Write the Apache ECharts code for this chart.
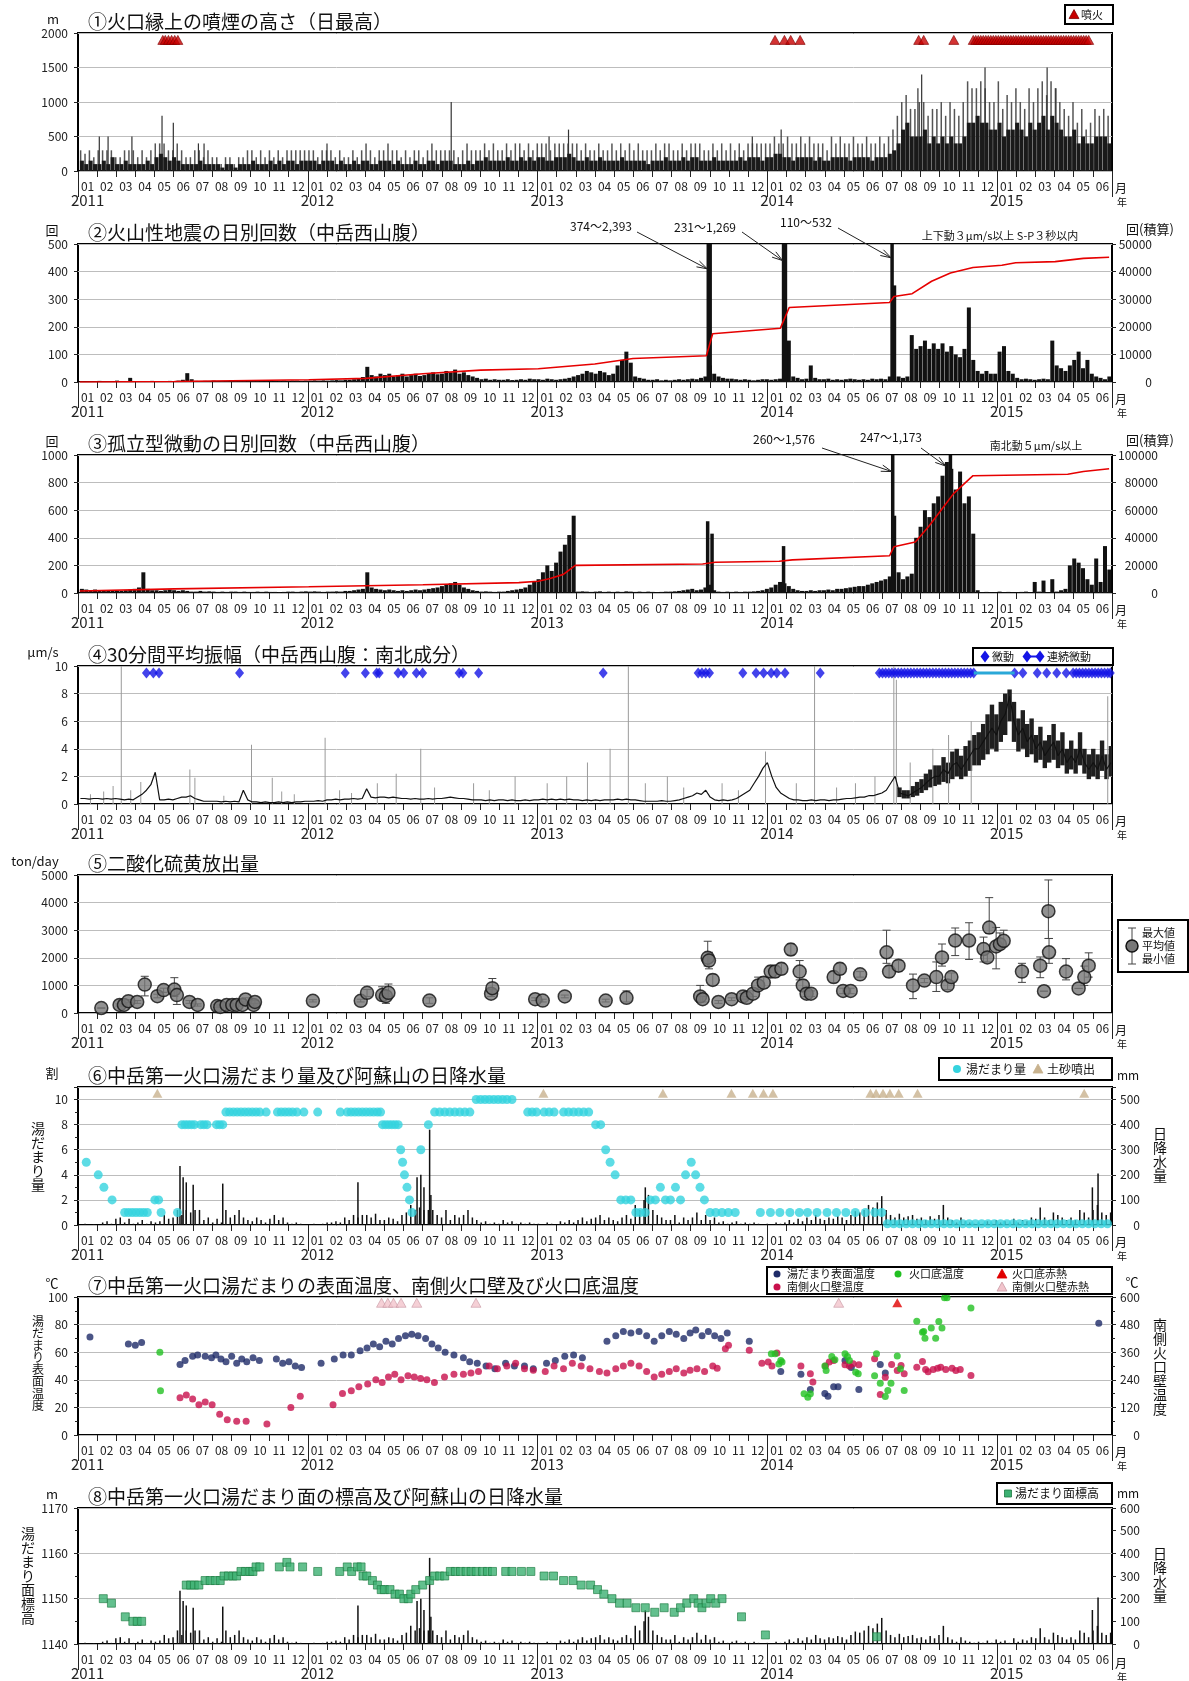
<!DOCTYPE html>
<html><head><meta charset="utf-8"><title>阿蘇山 観測データ</title>
<script src="https://cdn.jsdelivr.net/npm/echarts@6.0.0/dist/echarts.min.js"></script>
<style>html,body{margin:0;padding:0;background:#fff;}#chart{width:1189px;height:1681px;}</style>
</head><body><div id="chart"></div>
<script>
// ---------------- tick labels ----------------
const monthTicks = ['01','02','03','04','05','06','07','08','09','10','11','12',
 '01','02','03','04','05','06','07','08','09','10','11','12',
 '01','02','03','04','05','06','07','08','09','10','11','12',
 '01','02','03','04','05','06','07','08','09','10','11','12',
 '01','02','03','04','05','06'];
const yearLabels = ['2011','2012','2013','2014','2015'];
const T0 = '2011-01-01', T1 = '2015-07-01';

// ---------------- ① smoke height (m): weekly max and weekly typical ----------------
const smokeWeekly = [
 300,250,300,200,300, 300,300,300,200, 200,300,300,300, 200,300,200,300, 400,400,400,300,300, 400,300,200,200, 300,300,200,300,200, 200,100,200,200, 100,200,200,300, 300,200,300,200,300, 200,300,200,300, 300,300,300,300,
 300,300,200,300,300, 300,200,300,200, 200,300,200,300, 400,300,200,300, 300,400,300,300,200, 300,200,300,300, 200,300,400,300, 300,300,300,300,200, 300,400,300,300, 300,400,300,400,300, 300,400,300,400, 400,300,400,300,
 400,400,400,300,400, 400,400,400,400, 400,300,400,300, 300,400,300,300, 400,300,400,300,400, 300,400,300,300, 300,400,300,400, 400,300,300,400,300, 400,400,400,300, 300,400,300,400,300, 400,300,400,300, 400,400,400,400,
 400,400,500,400,400, 500,400,400,500, 400,500,400,400, 400,300,500,400, 500,400,400,500,400, 400,500,400,400, 500,400,500,600, 800,1000,1100,900,900, 1000,1000,800,900, 900,1000,800,1000,900, 800,1000,1300,1200, 1200,1300,1200,1000,
 1000,1300,900,1100,1000, 1200,1000,900,1200, 1000,1200,1300,1100, 1300,1200,1000,900, 800,1000,700,900,600, 700,900,800,900,800];
const smokeTypical = [
 150,100,150,100,100, 150,100,200,100, 100,150,100,100, 100,100,150,100, 200,250,200,150,200, 150,100,100,100, 100,150,100,100,100, 100,50,100,100, 50,100,100,100, 150,100,100,100,150, 100,150,100,150, 150,100,150,150,
 150,150,100,150,150, 150,100,150,100, 100,150,100,150, 150,100,100,150, 150,150,100,150,100, 100,100,150,100, 100,150,150,100, 150,150,150,100,100, 100,150,100,150, 150,200,150,150,150, 150,200,150,150, 200,150,200,150,
 200,200,150,150,200, 200,200,250,200, 150,150,200,150, 150,200,150,150, 150,150,200,150,150, 150,150,150,100, 150,150,150,200, 150,150,150,200,150, 200,200,150,150, 150,200,150,150,150, 150,150,200,150, 200,200,200,150,
 200,200,250,250,200, 200,150,200,200, 200,200,150,200, 150,150,200,200, 200,200,150,200,200, 200,200,150,200, 200,200,250,300, 400,600,700,500,500, 500,600,400,500, 400,500,400,500,400, 400,500,700,700, 800,700,700,600,
 600,700,500,600,600, 700,600,500,700, 600,700,800,600, 800,700,600,500, 500,600,400,500,400, 400,500,500,500,400];
const smokePeaks = [['2011-02-03',500],['2011-02-17',500],['2011-03-27',500],['2011-05-14',800],['2011-06-01',700],['2011-07-11',400],['2011-07-20',400],['2012-02-01',400],['2012-08-17',1000],['2013-01-20',500],['2013-02-20',600],['2013-12-10',500],['2014-01-25',600],['2014-08-31',1200],['2014-09-06',1400],['2014-12-16',1500],['2015-03-25',1500],['2015-04-08',1200]];
const eruptDates = ['2011-05-13','2011-05-17','2011-05-22','2011-05-27','2011-06-01','2011-06-06',
 '2014-01-13','2014-01-28','2014-02-07','2014-02-22','2014-08-30','2014-09-07','2014-10-25',
 '2014-11-25','2014-11-29','2014-12-03','2014-12-07','2014-12-11','2014-12-15','2014-12-19','2014-12-23','2014-12-27','2014-12-31',
 '2015-01-04','2015-01-08','2015-01-12','2015-01-16','2015-01-20','2015-01-24','2015-01-28','2015-02-01','2015-02-05','2015-02-09',
 '2015-02-13','2015-02-17','2015-02-21','2015-02-25','2015-03-01','2015-03-05','2015-03-09','2015-03-13','2015-03-17','2015-03-21',
 '2015-03-25','2015-03-29','2015-04-02','2015-04-06','2015-04-10','2015-04-14','2015-04-18','2015-04-22','2015-04-26','2015-04-30',
 '2015-05-04','2015-05-08','2015-05-12','2015-05-16','2015-05-20','2015-05-24','2015-05-28'];

// ---------------- ② volcanic earthquakes ----------------
const eqWeekly = [
 3,2,3,2,4, 3,2,3,5, 2,3,15,2, 3,2,3,4, 2,3,2,4,3, 5,8,32,10, 4,3,4,3,5, 3,4,3,3, 4,3,4,3, 5,4,3,5,4, 3,4,5,4, 5,5,4,5,
 5,6,5,6,5, 6,7,6,8, 8,10,12,18, 55,25,20,30, 25,30,20,25,30, 20,25,30,22, 25,30,35,28, 30,40,35,45,30, 35,25,20,15, 10,12,8,10,8, 8,10,7,8, 10,8,12,10,
 10,8,12,10,8, 10,12,15,20, 25,30,40,35, 30,40,35,25, 30,60,80,110,70, 20,15,12,8, 8,10,6,8, 6,8,10,8,10, 12,10,15,20, 60,30,20,15,12, 12,10,8,10, 8,6,8,10,
 10,8,10,12,20, 150,20,15,10, 12,60,15,10, 10,12,8,10, 8,10,12,10,8, 10,8,12,10, 12,10,20,350, 20,15,20,170,120, 130,150,120,140, 120,140,110,130,100, 90,120,270,80, 40,30,40,30,
 30,110,130,40,30, 15,10,12,10, 8,10,12,10, 150,60,50,40, 60,80,110,50,80, 30,20,15,10,20];
const eqPeaks = [['2013-09-29',2393],['2013-10-02',600],['2014-01-27',1269],['2014-01-30',500],['2014-07-19',532]];
const eqCum = [['2011-01-01',0],['2011-06-01',200],['2012-01-01',800],['2012-04-01',1300],['2012-07-01',3000],['2012-10-01',4300],['2013-01-01',4800],['2013-04-01',6500],['2013-06-01',8500],['2013-09-26',9500],['2013-10-06',17500],['2014-01-22',19500],['2014-02-05',27000],['2014-07-15',28800],['2014-07-22',31000],['2014-08-20',32000],['2014-09-20',36500],['2014-10-20',39500],['2014-11-25',41500],['2015-01-10',42300],['2015-02-01',43200],['2015-04-05',43600],['2015-05-20',44800],['2015-06-30',45200]];

// ---------------- ③ isolated tremor ----------------
const trWeekly = [
 30,25,20,25,20, 20,15,20,15, 15,20,25,30, 40,150,30,20, 20,15,20,25,20, 15,20,15,10, 10,15,10,12,10, 8,10,8,10, 10,8,10,8, 8,10,8,10,8, 8,6,8,10, 10,8,10,12,
 10,12,10,8,10, 10,12,10,15, 15,20,25,30, 150,40,30,25, 20,25,20,15,20, 15,20,25,20, 25,30,35,40, 50,60,70,80,60, 40,30,20,15, 10,12,10,8,10, 10,15,20,25, 30,40,60,80,
 100,150,200,160,220, 300,350,420,560, 10,12,10,8, 10,12,8,10, 8,10,8,12,10, 8,10,8,10, 8,6,8,10, 10,12,15,20,25, 30,20,25,40, 60,20,10,8,10, 8,10,8,10, 10,12,15,20,
 30,40,60,80,70, 50,30,20,15, 15,20,15,20, 20,25,20,30, 30,35,40,45,50, 50,60,70,80, 90,100,120,560, 150,100,120,140,400, 480,600,550,650, 700,850,950,900,750, 880,650,700,430, 20,5,8,5,
 5,10,5,8,5, 5,8,10,5, 80,10,90,5, 100,10,20,30, 200,250,220,180,100, 60,250,80,340,170];
const trPeaks = [['2013-09-28',520],['2013-10-05',430],['2014-01-27',340],['2014-07-20',1576],['2014-10-20',1173]];
const trCum = [['2011-01-01',1500],['2011-06-01',3000],['2012-01-01',4500],['2012-07-01',6000],['2012-12-01',7500],['2013-01-01',8500],['2013-01-20',10500],['2013-02-10',13500],['2013-03-01',20000],['2013-09-20',21000],['2013-10-10',22300],['2014-01-20',23000],['2014-02-10',24000],['2014-07-15',27000],['2014-07-22',33500],['2014-08-25',37000],['2014-09-15',48000],['2014-10-05',60000],['2014-10-25',72000],['2014-11-25',85000],['2015-04-25',86000],['2015-05-20',88000],['2015-06-30',90000]];

// ---------------- ④ 30-min mean amplitude ----------------
const ampWeekly = [
 0.4,0.4,0.35,0.4,0.4, 0.35,0.4,0.35,0.4, 0.35,0.3,0.35,0.3, 0.5,0.7,1.0,1.4, 2.3,0.3,0.3,0.35,0.3, 0.4,0.5,0.5,0.6, 0.4,0.3,0.2,0.2,0.2, 0.2,0.15,0.2,0.15, 0.2,0.15,1.0,0.3, 0.15,0.15,0.1,0.15,0.1, 0.1,0.15,0.1,0.15, 0.1,0.15,0.15,0.2,
 0.2,0.2,0.25,0.2,0.3, 0.3,0.35,0.3,0.35, 0.35,0.4,0.35,0.4, 1.1,0.5,0.45,0.5, 0.5,0.45,0.5,0.45,0.4, 0.4,0.35,0.4,0.35, 0.35,0.4,0.35,0.4, 0.4,0.45,0.5,0.45,0.4, 0.4,0.35,0.3,0.3, 0.3,0.25,0.3,0.25,0.3, 0.3,0.25,0.3,0.25, 0.25,0.3,0.25,0.3,
 0.3,0.35,0.3,0.35,0.3, 0.35,0.3,0.35,0.3, 0.3,0.25,0.3,0.25, 0.3,0.25,0.3,0.3, 0.3,0.35,0.3,0.35,0.3, 0.3,0.25,0.2,0.2, 0.2,0.2,0.25,0.2, 0.2,0.25,0.3,0.4,0.5, 0.6,0.8,0.7,1.0, 0.5,0.3,0.25,0.3,0.25, 0.3,0.4,0.6,0.8, 1.0,1.5,2.0,2.6,
 3.0,2.0,1.2,0.8,0.6, 0.4,0.3,0.3,0.25, 0.25,0.3,0.25,0.3, 0.3,0.25,0.3,0.3, 0.35,0.4,0.4,0.45,0.5, 0.5,0.6,0.6,0.7, 0.8,1.0,1.5,2.0, 0.8,0.7,0.6,0.8,1.0, 1.2,1.5,1.8,2.0, 2.0,2.5,2.2,2.8,3.0, 2.5,3.0,3.5,4.0, 4.0,4.5,5.0,5.5,
 5.0,6.0,6.5,7.8,6.0, 5.0,5.5,4.5,5.0, 4.0,4.5,3.5,4.0, 4.5,3.5,4.0,3.0, 3.5,3.0,4.0,3.0,2.5, 3.0,2.5,3.5,2.5,3.0];
// weekly low / high range of the trace from week 186 (end of July 2014) on
const ampBandStartWeek = 186;
const ampLow = [0.5,0.4,0.4,0.5,0.6, 0.8,1.0,1.2,1.3, 1.4,1.6,1.5,1.8,2.0, 1.8,2.0,2.4,2.8, 2.8,3.2,3.6,4.0, 3.8,4.5,5.0,6.0,4.5, 3.8,4.0,3.4,3.6, 3.0,3.2,2.6,3.0, 3.2,2.6,2.8,2.2, 2.5,2.2,2.8,2.2,1.8, 2.0,1.8,2.4,1.8,2.0];
const ampHigh = [1.2,1.0,1.0,1.3,1.6, 1.8,2.2,2.5,2.8, 2.8,3.4,3.0,3.8,4.0, 3.5,4.2,4.6,5.0, 5.2,5.8,6.5,7.2, 6.5,7.4,8.0,8.3,7.4, 6.2,6.8,5.8,6.2, 5.0,5.6,4.6,5.0, 5.8,4.6,5.2,4.0, 4.6,4.0,5.2,4.0,3.6, 4.0,3.6,4.6,3.6,4.2];
const ampSpikes = [['2011-01-20',0.7],['2011-02-10',0.9],['2011-02-25',1.3],['2011-03-10',10],['2011-03-25',1.0],['2011-04-10',1.6],['2011-06-27',2.5],['2011-07-05',1.9],['2011-08-20',0.6],['2011-10-03',4.3],['2011-11-05',1.9],['2011-11-20',0.9],['2011-12-10',0.7],['2012-01-28',4.8],['2012-02-20',1.0],['2012-03-10',0.8],['2012-04-20',1.5],['2012-05-20',2.2],['2012-06-28',4.0],['2012-07-20',1.2],['2012-09-20',1.5],['2012-10-15',1.0],['2012-11-25',2.0],['2013-01-15',1.5],['2013-02-15',2.0],['2013-03-20',3.0],['2013-04-25',4.0],['2013-05-24',10],['2013-06-20',1.5],['2013-07-25',2.0],['2013-08-20',1.2],['2013-10-20',1.5],['2013-11-15',1.0],['2013-12-28',3.8],['2014-02-15',1.5],['2014-03-16',10],['2014-04-20',1.2],['2014-05-20',1.5],['2014-06-20',2.0],['2014-07-20',10],['2014-07-24',9],['2014-08-15',3.0],['2014-09-20',4.0],['2014-10-15',5.0],['2014-11-20',6.0],['2015-06-25',7.8]];
const tremorDates = ['2011-04-19','2011-04-30','2011-05-09','2011-09-14','2012-02-29','2012-04-01','2012-04-19','2012-04-23','2012-05-23','2012-06-01','2012-06-21','2012-07-01','2012-08-28','2012-09-03','2012-09-28','2013-04-14','2013-09-12','2013-09-18','2013-09-24','2013-09-30','2013-11-22','2013-12-13','2013-12-25','2014-01-06','2014-01-15','2014-01-28','2014-03-25',
 '2014-06-27','2014-07-02','2014-07-07','2014-07-12','2014-07-17','2014-07-22','2014-07-27','2014-08-01','2014-08-06','2014-08-11','2014-08-16','2014-08-21','2014-08-26','2014-08-31','2014-09-05','2014-09-10','2014-09-15','2014-09-20','2014-09-25','2014-09-30','2014-10-05','2014-10-10','2014-10-15','2014-10-20','2014-10-25','2014-10-30','2014-11-04','2014-11-09','2014-11-14','2014-11-19','2014-11-24',
 '2015-01-28','2015-02-10','2015-03-05','2015-03-20','2015-04-05','2015-04-20','2015-05-01','2015-05-06','2015-05-11','2015-05-16','2015-05-21','2015-05-26','2015-05-31','2015-06-05','2015-06-10','2015-06-15','2015-06-20','2015-06-25','2015-06-29'];
const contTremor = [['2014-11-24',9.5],['2015-01-28',9.5]];

// ---------------- ⑤ SO2 [date, mean, min, max] ----------------
const so2 = [['2011-02-07',180,180,180],['2011-03-08',290,250,330],['2011-03-15',290,250,330],['2011-03-22',430,380,480],['2011-04-05',400,350,450],['2011-04-17',1030,620,1330],['2011-05-07',610,550,680],['2011-05-17',830,750,900],['2011-06-03',850,600,1280],['2011-06-07',650,310,900],['2011-06-27',400,350,450],['2011-07-10',290,250,330],['2011-08-10',250,200,300],['2011-08-15',220,200,250],['2011-08-25',290,250,330],['2011-09-03',290,250,330],['2011-09-10',290,250,330],['2011-09-19',290,250,330],['2011-09-24',490,400,550],['2011-10-07',290,250,330],['2011-10-09',400,350,450],
 ['2012-01-09',440,400,480],['2012-03-25',440,400,500],['2012-04-04',730,600,850],['2012-04-28',650,550,950],['2012-05-04',610,350,700],['2012-05-08',730,600,1050],['2012-07-12',450,350,550],['2012-10-18',700,600,850],['2012-10-20',900,700,1250],['2012-12-27',500,450,550],['2013-01-08',450,400,500],['2013-02-12',600,550,650],['2013-04-18',450,400,500],['2013-05-21',550,400,800],
 ['2013-09-15',600,400,1000],['2013-09-19',500,400,600],['2013-09-27',2000,1700,2600],['2013-09-29',1900,1600,2200],['2013-10-05',1200,1000,1400],['2013-10-14',400,350,450],['2013-11-04',500,450,550],['2013-11-22',600,500,700],['2013-11-28',550,500,600],['2013-12-08',700,600,800],['2013-12-16',1000,850,1300],['2013-12-25',1100,900,1300],['2014-01-05',1500,1300,1700],['2014-01-12',1500,1300,1700],['2014-01-22',1600,1400,1800],['2014-02-06',2300,2100,2500],['2014-02-20',1500,1200,1900],['2014-02-25',1000,800,1200],['2014-03-03',700,600,800],['2014-03-10',700,600,800],['2014-04-15',1300,1100,1500],['2014-04-25',1600,1400,1800],['2014-04-30',800,700,900],['2014-05-12',800,700,900],['2014-05-27',1400,1300,1500],['2014-07-08',2200,1800,3000],['2014-07-12',1500,1300,1700],['2014-07-27',1715,1500,1900],
 ['2014-08-19',1000,520,1410],['2014-09-06',1175,1100,1250],['2014-09-25',1300,780,1850],['2014-10-04',2015,1700,2500],['2014-10-13',1000,850,1150],['2014-10-19',1300,1150,1450],['2014-10-25',2625,2080,3080],['2014-11-16',2625,1940,3270],['2014-12-09',2315,1850,2750],['2014-12-15',2015,1850,2200],['2014-12-18',3095,2880,4180],['2014-12-29',2410,1600,3100],['2015-01-04',2495,2300,2900],['2015-01-10',2615,2400,3000],['2015-02-08',1500,1110,1800],['2015-03-09',1715,1280,2030],['2015-03-15',790,790,790],['2015-03-22',3690,2700,4820],['2015-03-23',2200,1800,2700],['2015-04-19',1500,1200,1970],['2015-05-09',890,890,890],['2015-05-18',1300,1000,1700],['2015-05-25',1715,1300,2180]];

// ---------------- ⑥ crater-lake volume & rain ----------------
const poolVol = [['2011-01-13',5],['2011-02-01',4],['2011-02-10',3],['2011-02-23',2],['2011-03-15',1],['2011-03-21',1],['2011-03-27',1],['2011-04-02',1],['2011-04-08',1],['2011-04-14',1],['2011-04-20',1],['2011-05-02',2],['2011-05-08',2],['2011-05-12',1],['2011-06-07',1],
 ['2011-06-14',8],['2011-06-19',8],['2011-06-24',8],['2011-06-29',8],['2011-07-04',8],['2011-07-14',8],['2011-07-19',8],['2011-07-24',8],['2011-08-08',8],['2011-08-13',8],['2011-08-18',8],
 ['2011-08-23',9],['2011-08-29',9],['2011-09-04',9],['2011-09-10',9],['2011-09-16',9],['2011-09-22',9],['2011-09-28',9],['2011-10-04',9],['2011-10-10',9],['2011-10-16',9],['2011-10-26',9],
 ['2011-11-13',9],['2011-11-19',9],['2011-11-25',9],['2011-12-01',9],['2011-12-07',9],['2011-12-14',9],['2011-12-25',9],['2012-01-16',9],
 ['2012-02-21',9],['2012-03-03',9],['2012-03-09',9],['2012-03-15',9],['2012-03-21',9],['2012-03-27',9],['2012-04-02',9],['2012-04-08',9],['2012-04-14',9],['2012-04-20',9],['2012-04-25',9],
 ['2012-04-28',8],['2012-05-03',8],['2012-05-08',8],['2012-05-13',8],['2012-05-18',8],['2012-05-23',8],
 ['2012-05-27',6],['2012-05-30',5],['2012-06-02',4],['2012-06-06',3],['2012-06-10',2],['2012-06-14',1],['2012-06-28',6],['2012-07-10',8],
 ['2012-07-20',9],['2012-07-28',9],['2012-08-05',9],['2012-08-13',9],['2012-08-21',9],['2012-08-29',9],['2012-09-06',9],['2012-09-14',9],
 ['2012-09-24',10],['2012-10-01',10],['2012-10-08',10],['2012-10-15',10],['2012-10-22',10],['2012-10-29',10],['2012-11-05',10],['2012-11-12',10],['2012-11-20',10],
 ['2012-12-15',9],['2012-12-22',9],['2012-12-29',9],['2013-01-10',9],['2013-01-18',9],['2013-01-26',9],['2013-02-10',9],['2013-02-18',9],['2013-02-26',9],['2013-03-06',9],['2013-03-14',9],['2013-03-22',9],
 ['2013-04-02',8],['2013-04-10',8],['2013-04-18',6],['2013-04-25',5],['2013-05-03',4],['2013-05-12',2],['2013-05-20',2],['2013-05-28',2],['2013-06-05',1],['2013-06-12',1],['2013-06-20',1],['2013-06-28',2],['2013-07-06',2],['2013-07-14',3],['2013-07-22',2],['2013-07-30',2],['2013-08-07',3],['2013-08-15',2],['2013-08-23',4],['2013-09-01',5],['2013-09-08',4],['2013-09-15',3],['2013-09-22',2],['2013-10-01',1],['2013-10-10',1],['2013-10-20',1],['2013-10-30',1],['2013-11-10',1],
 ['2013-12-20',1],['2014-01-05',1],['2014-01-20',1],['2014-02-05',1],['2014-02-20',1],['2014-03-05',1],['2014-03-20',1],['2014-04-05',1],['2014-04-20',1],['2014-05-05',1],['2014-05-20',1],['2014-06-05',1],['2014-06-20',1],['2014-07-01',1],
 ['2014-07-10',0.1],['2014-07-20',0.1],['2014-07-30',0.1],['2014-08-09',0.1],['2014-08-19',0.1],['2014-08-29',0.1],['2014-09-08',0.1],['2014-09-18',0.1],['2014-09-28',0.1],['2014-10-08',0.1],['2014-10-18',0.1],['2014-10-28',0.1],['2014-11-07',0.1],['2014-11-17',0.1],['2014-11-27',0.1],['2014-12-07',0.1],['2014-12-17',0.1],['2014-12-27',0.1],['2015-01-06',0.1],['2015-01-16',0.1],['2015-01-26',0.1],['2015-02-05',0.1],['2015-02-15',0.1],['2015-02-25',0.1],['2015-03-07',0.1],['2015-03-17',0.1],['2015-03-27',0.1],['2015-04-06',0.1],['2015-04-16',0.1],['2015-04-26',0.1],['2015-05-06',0.1],['2015-05-16',0.1],['2015-05-26',0.1],['2015-06-05',0.1],['2015-06-15',0.1],['2015-06-25',0.1]];
const sediment = ['2011-05-06','2013-01-09','2013-07-18','2013-11-04','2013-12-08','2013-12-25','2014-01-09','2014-06-13','2014-06-22','2014-07-03','2014-07-14','2014-07-28','2014-08-27','2015-05-19'];
const rainWeekly = [
 0,5,0,3,0, 10,15,5,25, 30,10,25,5, 10,20,5,15, 10,15,40,25,30, 60,40,60,50, 60,60,20,30,10, 25,10,60,30, 40,60,30,20, 15,30,20,10,25, 40,20,30,10, 5,10,5,0,
 0,5,0,5,10, 10,15,10,30, 20,40,30,40, 40,30,45,20, 20,30,25,15,40, 50,80,60,70, 60,60,60,40, 30,60,20,40,30, 40,60,30,20, 10,15,5,10,5, 20,10,15,5, 10,5,10,5,
 5,0,10,5,0, 15,10,20,10, 20,30,15,25, 30,40,20,30, 20,15,30,40,25, 80,60,100,120, 60,40,30,20, 20,40,10,30,20, 30,50,20,40, 20,30,10,15,5, 10,15,5,10, 5,10,5,0,
 5,0,10,5,10, 20,10,25,15, 30,20,40,25, 20,30,25,35, 30,20,40,55,50, 60,80,70,90, 115,60,40,30, 45,30,35,40,25, 30,20,35,25, 40,80,30,20,10, 30,15,10,5, 10,5,15,5,
 20,10,15,5,25, 10,20,15,30, 25,70,30,20, 50,40,30,20, 30,20,60,50,30, 60,80,50,40,50];
const rainPeaks = [['2011-06-11',235],['2011-06-16',190],['2011-06-21',170],['2011-07-02',160],['2011-08-18',165],['2012-03-20',170],['2012-06-22',190],['2012-06-28',200],['2012-07-03',150],['2012-07-12',380],['2012-07-14',120],['2013-06-20',150],['2015-06-01',150],['2015-06-10',205]];

// ---------------- ⑦ temperatures ----------------
const surfTemp = [['2011-01-20',71],['2011-03-22',66],['2011-04-02',65],['2011-04-12',67],['2011-06-12',51],['2011-06-20',54],['2011-07-02',57],['2011-07-10',58],['2011-07-22',57],['2011-08-01',56],['2011-08-08',58],['2011-08-16',55],['2011-08-24',53],['2011-09-02',57],['2011-09-10',52],['2011-09-18',55],['2011-09-26',53],['2011-10-06',56],['2011-10-16',54],['2011-11-12',55],['2011-11-22',52],['2011-12-02',53],['2011-12-12',50],['2011-12-22',49],
 ['2012-01-22',52],['2012-02-12',55],['2012-02-26',58],['2012-03-10',58],['2012-03-24',61],['2012-04-04',63],['2012-04-14',66],['2012-04-24',64],['2012-05-04',68],['2012-05-14',66],['2012-05-24',70],['2012-06-04',72],['2012-06-14',73],['2012-06-24',72],['2012-07-06',70],['2012-07-16',66],['2012-07-26',63],['2012-08-06',60],['2012-08-20',58],['2012-09-04',56],['2012-09-14',53],['2012-09-26',52],['2012-10-10',50],['2012-10-24',48],['2012-11-10',52],['2012-11-24',50],['2012-12-10',50],['2012-12-24',48],
 ['2013-01-14',52],['2013-01-28',54],['2013-02-12',57],['2013-02-26',58],['2013-03-12',56],['2013-04-20',68],['2013-05-04',72],['2013-05-16',75],['2013-05-28',74],['2013-06-10',75],['2013-06-22',72],['2013-07-04',68],['2013-07-16',72],['2013-07-28',75],['2013-08-08',73],['2013-08-20',70],['2013-08-30',74],['2013-09-08',76],['2013-09-18',72],['2013-09-28',75],['2013-10-08',72],['2013-10-18',70],['2013-10-28',74],['2013-12-02',68],
 ['2014-01-21',46],['2014-02-22',44],['2014-03-09',33],['2014-04-01',30],['2014-04-06',28],['2014-04-15',35],['2014-04-22',35],['2014-05-03',54],['2014-05-13',49],['2014-05-25',33],['2014-06-28',51],['2014-07-06',45],['2015-06-10',81]];
const wallTemp = [['2011-06-12',162],['2011-06-22',174],['2011-07-02',156],['2011-07-12',132],['2011-07-22',144],['2011-08-02',132],['2011-08-14',90],['2011-08-26',66],['2011-09-10',60],['2011-09-25',60],['2011-10-28',48],['2011-12-05',120],['2011-12-20',168],
 ['2012-02-10',132],['2012-02-25',180],['2012-03-10',192],['2012-03-22',210],['2012-04-05',222],['2012-04-18',240],['2012-04-28',228],['2012-05-08',252],['2012-05-18',264],['2012-05-28',240],['2012-06-08',258],['2012-06-18',252],['2012-06-28',246],['2012-07-08',240],['2012-07-20',228],['2012-08-05',252],['2012-08-20',264],['2012-09-04',264],['2012-09-16',270],['2012-09-28',276],['2012-10-15',300],['2012-10-28',288],['2012-11-12',300],['2012-11-26',312],['2012-12-10',288],['2012-12-24',282],
 ['2013-01-12',276],['2013-01-26',300],['2013-02-10',288],['2013-02-24',312],['2013-03-10',300],['2013-03-24',288],['2013-04-08',276],['2013-04-20',270],['2013-05-04',288],['2013-05-16',300],['2013-05-28',312],['2013-06-10',300],['2013-06-22',276],['2013-07-04',252],['2013-07-16',264],['2013-07-28',276],['2013-08-08',288],['2013-08-20',270],['2013-08-30',282],['2013-09-10',288],['2013-09-22',276],['2013-10-05',300],['2013-10-12',290],['2013-10-25',375],['2013-10-30',390],['2013-12-02',368],['2013-12-22',312],
 ['2014-01-01',317],['2014-01-07',300],['2014-01-15',357],['2014-02-22',300],['2014-03-09',266],['2014-03-13',230],['2014-04-02',300],['2014-04-08',317],['2014-04-15',324],['2014-05-03',305],['2014-05-10',300],['2014-05-16',310],['2014-05-25',305],['2014-06-19',331],['2014-06-28',176],['2014-07-06',251],['2014-07-16',306],['2014-07-25',280],['2014-07-31',302],['2014-08-05',266],['2014-08-25',295],['2014-09-03',320],['2014-09-08',285],['2014-09-12',275],['2014-09-20',285],['2014-09-27',290],['2014-10-02',295],['2014-10-10',285],['2014-10-20',290],['2014-10-26',280],['2014-11-02',285],['2014-11-19',259]];
const floorTemp = [['2011-05-11',360],['2011-05-12',192],['2014-01-06',353],['2014-01-12',353],['2014-01-18',309],['2014-01-21',324],['2014-01-23',317],['2014-02-27',179],['2014-03-05',164],['2014-03-09',179],['2014-04-01',300],['2014-04-03',280],['2014-04-12',341],['2014-04-17',327],['2014-05-03',353],['2014-05-07',341],['2014-05-10',324],['2014-05-20',273],['2014-05-24',266],['2014-06-19',258],['2014-06-22',353],['2014-06-28',225],['2014-07-06',167],['2014-07-10',193],['2014-07-15',225],['2014-07-25',343],['2014-07-30',288],['2014-08-05',193],['2014-08-25',495],['2014-09-03',447],['2014-09-05',450],['2014-09-07',421],['2014-09-17',465],['2014-09-24',421],['2014-09-29',494],['2014-10-04',465],['2014-10-08',597],['2014-10-12',597],['2014-11-19',552]];
const floorGlow = ['2014-07-25'];
const wallGlow = ['2012-04-27','2012-05-07','2012-05-16','2012-05-28','2012-06-22','2012-09-24','2014-04-23'];

// ---------------- ⑧ crater-lake surface elevation ----------------
const poolElev = [['2011-02-09',1150],['2011-02-22',1149],['2011-03-16',1146],['2011-03-28',1145],['2011-04-04',1145],['2011-04-11',1145],
 ['2011-06-21',1153],['2011-06-28',1153],['2011-07-04',1153],['2011-07-11',1153],['2011-07-21',1154],['2011-07-29',1154],['2011-08-06',1154],['2011-08-14',1154],
 ['2011-08-20',1155],['2011-08-27',1155],['2011-09-03',1155],['2011-09-09',1155],['2011-09-16',1156],['2011-09-23',1156],['2011-09-30',1156],['2011-10-05',1156],
 ['2011-10-10',1157],['2011-10-16',1157],['2011-11-16',1157],['2011-11-28',1158],['2011-12-03',1157],['2011-12-23',1157],
 ['2012-01-16',1156],['2012-02-20',1156],['2012-03-03',1157],['2012-03-10',1156],['2012-03-19',1157],['2012-03-25',1157],['2012-03-28',1155],['2012-04-03',1155],['2012-04-12',1154],['2012-04-20',1153],['2012-04-26',1152],['2012-05-01',1152],
 ['2012-05-10',1152],['2012-05-18',1151],['2012-05-25',1151],['2012-06-01',1150],['2012-06-08',1150],['2012-06-12',1151],['2012-06-20',1152],['2012-07-01',1153],['2012-07-12',1154],['2012-07-20',1155],['2012-07-28',1155],['2012-08-05',1155],['2012-08-14',1156],['2012-08-22',1156],['2012-08-30',1156],['2012-09-08',1156],['2012-09-16',1156],['2012-09-24',1156],['2012-10-04',1156],['2012-10-12',1156],['2012-10-20',1156],['2012-11-10',1156],['2012-11-20',1156],['2012-12-05',1156],['2012-12-20',1156],
 ['2013-01-10',1155],['2013-01-25',1155],['2013-02-10',1154],['2013-02-25',1154],['2013-03-10',1153],['2013-03-25',1153],['2013-04-05',1152],['2013-04-15',1151],['2013-04-28',1150],['2013-05-10',1149],['2013-05-22',1149],['2013-06-05',1148],['2013-06-20',1148],['2013-07-05',1147],['2013-07-20',1148],['2013-08-05',1147],['2013-08-15',1148],['2013-08-25',1149],['2013-09-05',1150],['2013-09-12',1149],['2013-09-18',1148],['2013-09-25',1149],['2013-10-02',1150],['2013-10-10',1149],['2013-10-20',1150],['2013-11-20',1146],['2013-12-28',1142],['2014-06-23',1141.6]];

// ---------------- layout ----------------
const FONT = '"Noto Sans CJK JP","Noto Sans",sans-serif';
const tops = [33,244,455,666,875,1087,1297,1508];
const H = 138, GL = 78, GR = 77;
const titles = ['①火口縁上の噴煙の高さ（日最高）','②火山性地震の日別回数（中岳西山腹）','③孤立型微動の日別回数（中岳西山腹）','④30分間平均振幅（中岳西山腹：南北成分）','⑤二酸化硫黄放出量','⑥中岳第一火口湯だまり量及び阿蘇山の日降水量','⑦中岳第一火口湯だまりの表面温度、南側火口壁及び火口底温度','⑧中岳第一火口湯だまり面の標高及び阿蘇山の日降水量'];

const ts = s => new Date(s + 'T00:00:00').getTime();
const weekTs = i => new Date(2011, 0, 4 + 7 * i).getTime();
const weekly = vals => vals.map((v, i) => [weekTs(i), v]);
const pts = arr => arr.map(d => [ts(d[0]), d[1]]);
const atY = (dates, y) => dates.map(d => [ts(d), y]);
const monthIdx = monthTicks.map((m, i) => String(i));
const plain = v => String(v);

const chart = echarts.init(document.getElementById('chart'));

const grid = tops.map(t => ({left: GL, right: GR, top: t, height: H, show: true, borderColor: '#000', borderWidth: 2, backgroundColor: '#fff'}));
const xAxis = [];
tops.forEach((t, g) => {
  xAxis.push({type: 'time', gridIndex: g, min: ts(T0), max: ts(T1), show: false});
  xAxis.push({type: 'category', gridIndex: g, position: 'bottom', data: monthIdx, boundaryGap: true,
    axisLine: {show: false}, splitLine: {show: false},
    axisTick: {show: true, interval: 0, length: 6, lineStyle: {color: '#222', width: 1}},
    axisLabel: {interval: 0, margin: 9, fontSize: 12, color: '#222', fontFamily: FONT, formatter: (v, i) => monthTicks[i]}});
  xAxis.push({type: 'category', gridIndex: g, position: 'bottom', data: monthIdx, boundaryGap: true,
    axisLine: {show: false}, splitLine: {show: false},
    axisTick: {show: true, interval: i => i % 12 === 0, length: 26, lineStyle: {color: '#222', width: 1}},
    axisLabel: {interval: i => i % 12 === 0, margin: 22, fontSize: 15, color: '#222', fontFamily: FONT, formatter: (v, i) => yearLabels[Math.floor(i / 12)]}});
});

function yL(g, min, max, interval, extra, fmt) {
  return Object.assign({type: 'value', gridIndex: g, position: 'left', min, max, interval,
    axisLine: {show: false},
    axisTick: {show: true, length: 4, lineStyle: {color: '#222'}},
    splitLine: {show: true, lineStyle: {color: '#bdbdbd', width: 1}},
    axisLabel: {fontSize: 12, color: '#222', margin: 10, fontFamily: FONT, formatter: fmt || plain}}, extra || {});
}
function yR(g, min, max, interval, margin, extra, fmt) {
  return Object.assign({type: 'value', gridIndex: g, position: 'right', min, max, interval,
    axisLine: {show: false},
    axisTick: {show: true, length: 4, lineStyle: {color: '#222'}},
    splitLine: {show: false},
    axisLabel: {fontSize: 12, color: '#222', margin: margin, align: 'right', fontFamily: FONT, formatter: fmt || plain}}, extra || {});
}
const minor = {minorTick: {show: true, splitNumber: 2, length: 3, lineStyle: {color: '#222'}}};
const yAxis = [
  yL(0, 0, 2000, 500),                        // 0
  yL(1, 0, 500, 100),                         // 1
  yR(1, 0, 50000, 10000, 40),                 // 2
  yL(2, 0, 1000, 200),                        // 3
  yR(2, 0, 100000, 20000, 46),                // 4
  yL(3, 0, 10, 2),                            // 5
  yL(4, 0, 5000, 1000),                       // 6
  yL(5, 0, 11, 2, minor, v => v > 10 ? '' : String(v)), // 7
  yR(5, 0, 550, 100, 28, null, v => v > 500 ? '' : String(v)), // 8
  yL(6, 0, 100, 20, minor),                   // 9
  yR(6, 0, 600, 120, 28, minor),              // 10
  yL(7, 1140, 1170, 10, minor),               // 11
  yR(7, 0, 600, 100, 28)                      // 12
];

const base = {animation: false, silent: true};
const bar = (xi, yi, data, w, color) => Object.assign({type: 'bar', xAxisIndex: xi, yAxisIndex: yi, data, barWidth: w, barGap: '-100%', itemStyle: {color}, clip: true}, base);
const sc = (xi, yi, data, symbol, size, color, border, bw) => Object.assign({type: 'scatter', xAxisIndex: xi, yAxisIndex: yi, data, symbol, symbolSize: size, itemStyle: {color, borderColor: border || color, borderWidth: bw || 0}, clip: false}, base);
const ln = (xi, yi, data, color, w) => Object.assign({type: 'line', xAxisIndex: xi, yAxisIndex: yi, data, showSymbol: false, symbol: 'none', lineStyle: {color, width: w}, clip: true}, base);

const series = [
  // ①
  bar(0, 0, weekly(smokeWeekly), 1.5, '#555'),
  bar(0, 0, pts(smokePeaks), 1.2, '#333'),
  bar(0, 0, weekly(smokeTypical), 4, '#1a1a1a'),
  sc(0, 0, atY(eruptDates, 1900), 'triangle', [10, 9], '#c80000', '#800000', 0.8),
  // ②
  bar(3, 1, weekly(eqWeekly), 4, '#111'),
  bar(3, 1, pts(eqPeaks), 3.5, '#111'),
  ln(3, 2, pts(eqCum), '#e60000', 1.6),
  // ③
  bar(6, 3, weekly(trWeekly), 4, '#111'),
  bar(6, 3, pts(trPeaks), 3.5, '#111'),
  ln(6, 4, pts(trCum), '#e60000', 1.6),
  // ④
  bar(9, 5, pts(ampSpikes), 1, '#9a9a9a'),
  Object.assign({type: 'custom', xAxisIndex: 9, yAxisIndex: 5, clip: true,
    data: ampLow.map((v, i) => [weekTs(ampBandStartWeek + i), v, ampHigh[i]]), encode: {x: 0, y: [1, 2]},
    renderItem: (params, api) => {
      const x = api.value(0);
      const a = api.coord([x, api.value(1)]), b = api.coord([x, api.value(2)]);
      const w = api.size([7 * 864e5, 0])[0];
      return {type: 'rect', shape: {x: a[0] - w / 2, y: b[1], width: w, height: a[1] - b[1]}, style: {fill: '#1f1f1f'}};
    }}, base),
  ln(9, 5, weekly(ampWeekly), '#111', 1.2),
  ln(9, 5, pts(contTremor), '#2aa8d8', 3),
  sc(9, 5, atY(tremorDates, 9.5), 'diamond', [9, 11], '#1414e6'),
  // ⑤
  Object.assign({type: 'custom', xAxisIndex: 12, yAxisIndex: 6, data: so2.map(d => [ts(d[0]), d[2], d[3]]), encode: {x: 0, y: [1, 2]},
    renderItem: (params, api) => {
      const x = api.value(0), lo = api.value(1), hi = api.value(2);
      const a = api.coord([x, lo]), b = api.coord([x, hi]);
      const c = 4, st = {stroke: '#444', lineWidth: 1};
      return {type: 'group', children: [
        {type: 'line', shape: {x1: a[0], y1: a[1], x2: b[0], y2: b[1]}, style: st},
        {type: 'line', shape: {x1: b[0] - c, y1: b[1], x2: b[0] + c, y2: b[1]}, style: st},
        {type: 'line', shape: {x1: a[0] - c, y1: a[1], x2: a[0] + c, y2: a[1]}, style: st}]};
    }}, base),
  sc(12, 6, so2.map(d => [ts(d[0]), d[1]]), 'circle', 13, '#777', '#111', 1.5),
  // ⑥
  bar(15, 8, weekly(rainWeekly), 1.5, '#111'),
  bar(15, 8, pts(rainPeaks), 1.5, '#111'),
  sc(15, 7, pts(poolVol), 'circle', 9, '#35d3de'),
  sc(15, 7, atY(sediment, 10.5), 'triangle', [10, 9], '#c8b28e'),
  // ⑦
  sc(18, 9, pts(surfTemp), 'circle', 7, '#1e2b68'),
  sc(18, 10, pts(wallTemp), 'circle', 7, '#c8104c'),
  sc(18, 10, pts(floorTemp), 'circle', 7, '#22c022'),
  sc(18, 10, atY(floorGlow, 575), 'triangle', [10, 9], '#e00000'),
  sc(18, 10, atY(wallGlow, 575), 'triangle', [10, 9], '#f2c4cc', '#c89aa4', 0.8),
  // ⑧
  bar(21, 12, weekly(rainWeekly), 1.5, '#111'),
  bar(21, 12, pts(rainPeaks), 1.5, '#111'),
  sc(21, 11, pts(poolElev), 'rect', 8, '#3cb072', '#1d7a40', 0.8)
];

const title = titles.map((t, i) => ({text: t, left: 88, top: tops[i] - 21, padding: 0,
  textStyle: {fontSize: 19, fontWeight: 'normal', color: '#111', fontFamily: FONT}}));

chart.setOption({animation: false, textStyle: {fontFamily: FONT}, title, grid, xAxis, yAxis, series});

// ---------------- decorations (text, legends, arrows) ----------------
const G = [];
function txt(x, y, s, size, align, color, extra) {
  G.push({type: 'text', x, y, z: 100, silent: true,
    style: Object.assign({text: s, fill: color || '#111', font: size + 'px ' + FONT, align: align || 'center', verticalAlign: 'middle'}, extra || {})});
}
function vtxt(x, yc, s, size) {
  txt(x, yc, s.split('').join('\n'), size, 'center', '#111', {lineHeight: size});
}
function box(x, y, w, h) {
  G.push({type: 'rect', z: 99, silent: true, shape: {x, y, width: w, height: h}, style: {fill: '#fff', stroke: '#000', lineWidth: 2}});
}
function tri(cx, cy, s, fill, stroke) {
  G.push({type: 'polygon', z: 100, silent: true, shape: {points: [[cx, cy - s * 0.55], [cx + s * 0.55, cy + s * 0.45], [cx - s * 0.55, cy + s * 0.45]]}, style: {fill, stroke: stroke || fill, lineWidth: 0.8}});
}
function dot(cx, cy, r, fill, stroke) {
  G.push({type: 'circle', z: 100, silent: true, shape: {cx, cy, r}, style: {fill, stroke: stroke || fill, lineWidth: stroke ? 1.5 : 0}});
}
function seg(x1, y1, x2, y2, c, w) {
  G.push({type: 'line', z: 100, silent: true, shape: {x1, y1, x2, y2}, style: {stroke: c || '#111', lineWidth: w || 1}});
}
function diamond(cx, cy, s, fill) {
  G.push({type: 'polygon', z: 100, silent: true, shape: {points: [[cx, cy - s * 0.6], [cx + s * 0.45, cy], [cx, cy + s * 0.6], [cx - s * 0.45, cy]]}, style: {fill}});
}
function arrow(x1, y1, x2, y2) {
  seg(x1, y1, x2, y2, '#222', 1);
  const a = Math.atan2(y2 - y1, x2 - x1), L = 11, w = 0.3;
  G.push({type: 'polyline', z: 100, silent: true, shape: {points: [[x2 - L * Math.cos(a - w), y2 - L * Math.sin(a - w)], [x2, y2], [x2 - L * Math.cos(a + w), y2 - L * Math.sin(a + w)]]}, style: {stroke: '#222', lineWidth: 1, fill: null}});
}

// units (left)
const unitsL = ['m', '回', '回', 'μm/s', 'ton/day', '割', '℃', 'm'];
const unitX = [53, 52, 52, 43, 35, 52, 52, 52];
unitsL.forEach((u, i) => txt(unitX[i], tops[i] - 14, u, 13));
// units (right)
txt(1150, tops[1] - 15, '回(積算)', 13);
txt(1150, tops[2] - 15, '回(積算)', 13);
txt(1128, tops[5] - 12, 'mm', 12);
txt(1132, tops[6] - 15, '℃', 13);
txt(1128, tops[7] - 15, 'mm', 12);
// month / year marks at right end
tops.forEach(t => { txt(1115, t + H + 17, '月', 12, 'left'); txt(1117, t + H + 31, '年', 10, 'left'); });
// vertical axis titles
vtxt(38, 1157, '湯だまり量', 14);
vtxt(38, 1363, '湯だまり表面温度', 12);
vtxt(28, 1576, '湯だまり面標高', 14);
vtxt(1160, 1155, '日降水量', 14);
vtxt(1160, 1367, '南側火口壁温度', 14);
vtxt(1160, 1575, '日降水量', 14);
// notes
txt(1000, tops[1] - 8, '上下動３μm/s以上 S-P３秒以内', 11);
txt(1036, tops[2] - 9, '南北動５μm/s以上', 11);

// legend ①
box(1065, 5, 48, 19); tri(1074, 14.5, 9, '#c80000', '#800000'); txt(1081, 14.5, '噴火', 11, 'left');
// legend ④
box(973, 648, 140, 17);
diamond(985, 656.5, 10, '#1414e6'); txt(992, 656.5, '微動', 11, 'left');
seg(1027, 656.5, 1040, 656.5, '#1414e6', 2); diamond(1027, 656.5, 10, '#1414e6'); diamond(1040, 656.5, 10, '#1414e6');
txt(1047, 656.5, '連続微動', 11, 'left');
// legend ⑤
box(1118, 920, 70, 52);
seg(1132, 928, 1132, 964, '#444', 1); seg(1128, 928, 1136, 928, '#444', 1); seg(1128, 964, 1136, 964, '#444', 1);
dot(1132, 946, 6, '#777', '#111');
txt(1142, 933, '最大値', 11, 'left'); txt(1142, 946, '平均値', 11, 'left'); txt(1142, 959, '最小値', 11, 'left');
// legend ⑥
box(939, 1058, 173, 22);
dot(957, 1069, 4, '#35d3de'); txt(966, 1069, '湯だまり量', 12, 'left');
tri(1038, 1069, 9, '#c8b28e'); txt(1047, 1069, '土砂噴出', 12, 'left');
// legend ⑦
box(767, 1267, 345, 27);
dot(777, 1274, 3.5, '#1e2b68'); txt(787, 1274, '湯だまり表面温度', 11, 'left');
dot(898, 1274, 3.5, '#22c022'); txt(909, 1274, '火口底温度', 11, 'left');
tri(1002, 1274, 9, '#e00000'); txt(1012, 1274, '火口底赤熱', 11, 'left');
dot(777, 1287, 3.5, '#c8104c'); txt(787, 1287, '南側火口壁温度', 11, 'left');
tri(1002, 1287, 9, '#f2c4cc', '#c89aa4'); txt(1012, 1287, '南側火口壁赤熱', 11, 'left');
// legend ⑧
box(997, 1483, 115, 21);
G.push({type: 'rect', z: 100, silent: true, shape: {x: 1004.5, y: 1490, width: 7, height: 7}, style: {fill: '#3cb072', stroke: '#1d7a40', lineWidth: 0.8}});
txt(1015, 1493.5, '湯だまり面標高', 12, 'left');

// annotations with arrows to data points
const annEq = [{label: '374～2,393', date: '2013-09-29', value: 410}, {label: '231～1,269', date: '2014-01-27', value: 440}, {label: '110～532', date: '2014-07-19', value: 450}];
const annTr = [{label: '260～1,576', date: '2014-07-20', value: 880}, {label: '247～1,173', date: '2014-10-14', value: 920}];
const annEqPos = [[601, 226, 637, 232], [705, 227, 742, 232], [806, 222, 838, 228]];
const annTrPos = [[784, 439, 822, 448], [891, 437, 921, 448]];
annEq.forEach((a, i) => {
  const p = chart.convertToPixel({xAxisIndex: 3, yAxisIndex: 1}, [ts(a.date), a.value]);
  const q = annEqPos[i];
  txt(q[0], q[1], a.label, 12);
  arrow(q[2], q[3], p[0] - 1, p[1]);
});
annTr.forEach((a, i) => {
  const p = chart.convertToPixel({xAxisIndex: 6, yAxisIndex: 3}, [ts(a.date), a.value]);
  const q = annTrPos[i];
  txt(q[0], q[1], a.label, 12);
  arrow(q[2], q[3], p[0] - 1, p[1]);
});

chart.setOption({graphic: {elements: G}});
</script></body></html>
